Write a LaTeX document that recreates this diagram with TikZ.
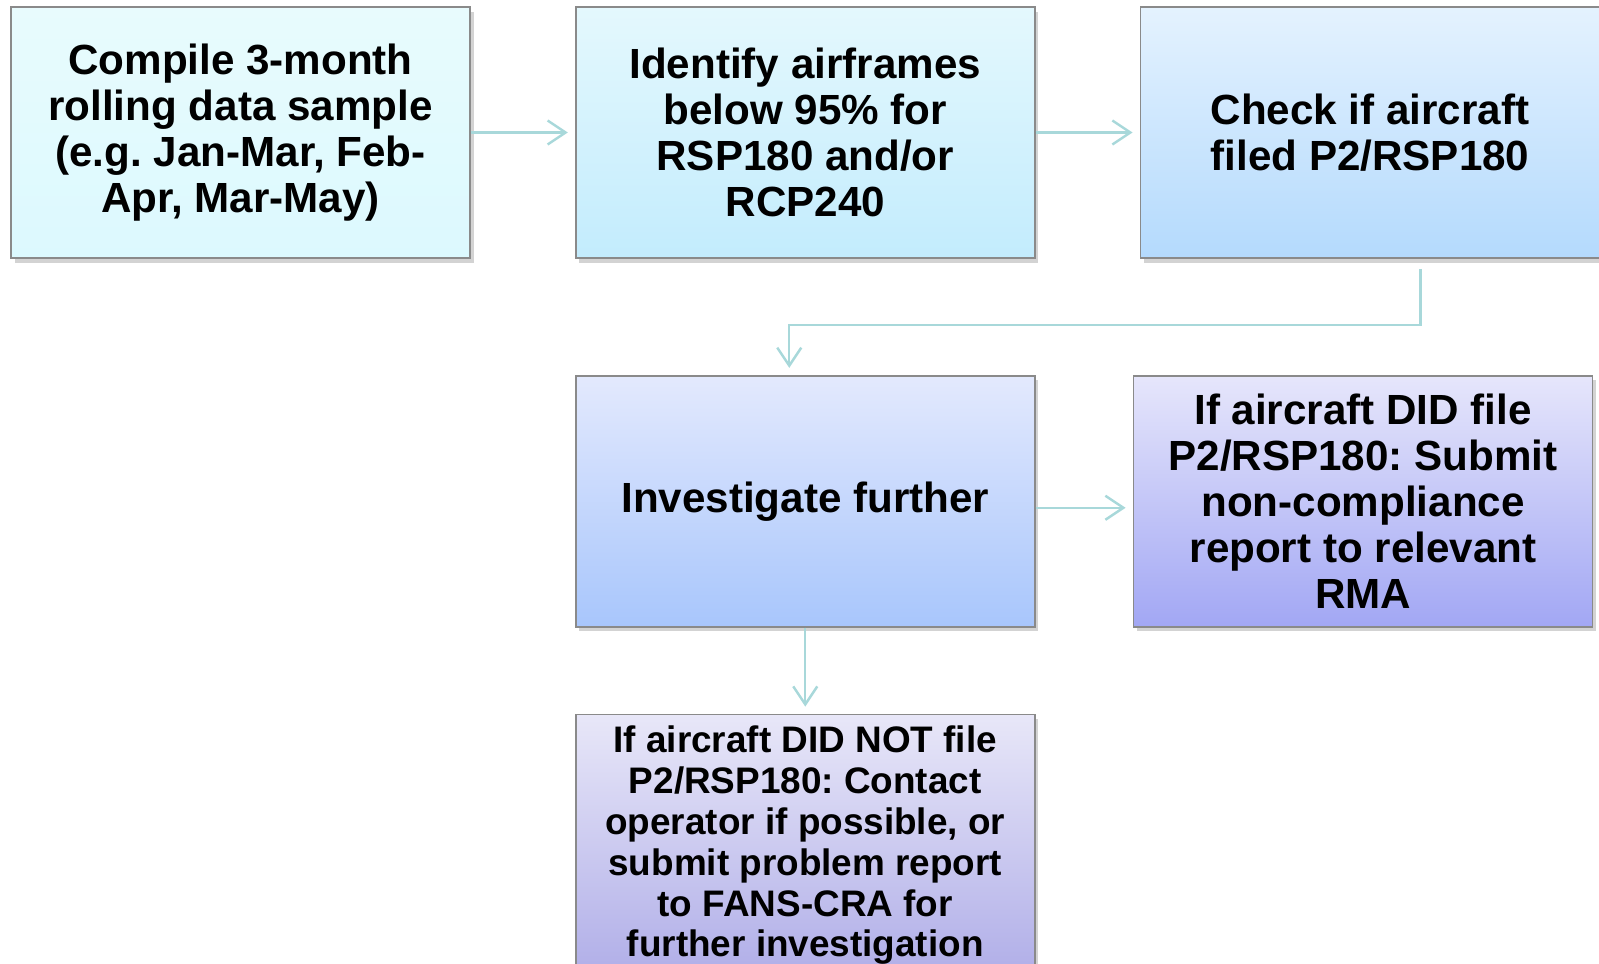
\documentclass[tikz,border=0pt]{standalone}
\usepackage{fontspec}
\setmainfont{Liberation Sans}
\frenchspacing
\usetikzlibrary{positioning,shadows,arrows.meta}
\definecolor{linkteal}{HTML}{A8D8DA}
\definecolor{edgegray}{HTML}{8A8A8A}

\begin{document}
\begin{tikzpicture}[node distance=1.04cm,
  flow/.style={draw=linkteal,line width=0.7pt,-{Straight Barb[length=1.8mm,width=2.4mm]},shorten >=2pt},
  stage box/.style={rectangle,draw=edgegray,line width=0.5pt,minimum width=4.59cm,minimum height=2.51cm,
    align=center,font=\fontsize{12}{13.1}\selectfont\bfseries,
    drop shadow={shadow xshift=0.035cm,shadow yshift=-0.045cm,opacity=0.35}}]
\useasboundingbox (0,0) rectangle (15.99,9.63);
%1
  \node[stage box,top color={rgb,255:red,232;green,251;blue,253},bottom color={rgb,255:red,220;green,249;blue,254}]
    (1) at (2.405,8.305) {Compile 3-month\\rolling data sample\\(e.g. Jan-Mar, Feb-\\Apr, Mar-May)};
%2
  \node[stage box,top color={rgb,255:red,228;green,248;blue,253},bottom color={rgb,255:red,195;green,236;blue,253}]
    (2) [right=of 1] {Identify airframes\\below 95\% for\\RSP180 and/or\\RCP240};
%3
  \node[stage box,top color={rgb,255:red,228;green,242;blue,254},bottom color={rgb,255:red,180;green,218;blue,253}]
    (3) [right=of 2] {Check if aircraft\\filed P2/RSP180};
%4
  \node[stage box,top color={rgb,255:red,227;green,233;blue,253},bottom color={rgb,255:red,168;green,198;blue,252}]
    (4) [below=1.16cm of 2] {Investigate further};
%5
  \node[stage box,top color={rgb,255:red,230;green,230;blue,251},bottom color={rgb,255:red,162;green,167;blue,244}]
    (5) [right=0.97cm of 4] {If aircraft DID file\\P2/RSP180: Submit\\non-compliance\\report to relevant\\RMA};
%6
  \node[stage box,font=\fontsize{10.5}{11.6}\selectfont\bfseries,
    top color={rgb,255:red,232;green,231;blue,248},bottom color={rgb,255:red,176;green,174;blue,232}]
    (6) [below=0.86cm of 4] {If aircraft DID NOT file\\P2/RSP180: Contact\\operator if possible, or\\submit problem report\\to FANS-CRA for\\further investigation};
%paths
  \path (1) edge[flow] (2)
        (2) edge[flow] (3)
        (4) edge[flow] (6);
  \draw[flow] ([yshift=-0.065cm]4.east) -- ([yshift=-0.065cm]5.west);
  \draw[flow] ([xshift=0.505cm,yshift=-0.1cm]3.south) -- ++(0,-0.56) -| ([xshift=-0.16cm]4.north);
\end{tikzpicture}
\end{document}
